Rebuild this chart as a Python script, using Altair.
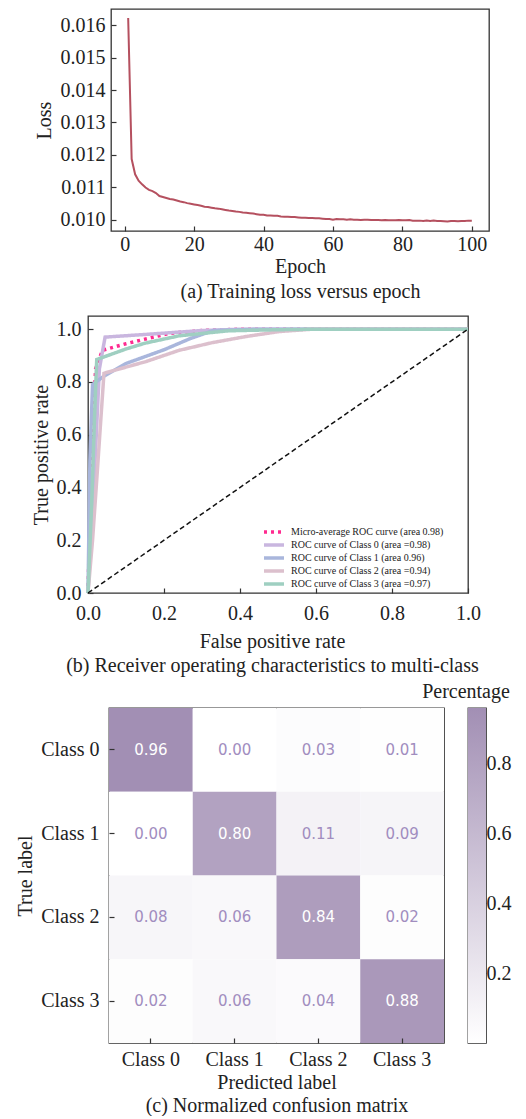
import altair as alt
import pandas as pd

SERIF = "Liberation Serif"

# ---------------- (a) training loss ----------------
epochs = list(range(1, 101))
loss = [
    0.01622, 0.01187, 0.01140, 0.01120, 0.01109, 0.01099, 0.01092, 0.01088, 0.01082, 0.01073,
    0.01070, 0.01067, 0.01064, 0.01062, 0.01059, 0.01056, 0.01054, 0.01051, 0.01049, 0.01047,
    0.01045, 0.01043, 0.01040, 0.01039, 0.01037, 0.01035, 0.01034, 0.01032, 0.01030, 0.01028,
    0.01027, 0.01025, 0.01024, 0.01022, 0.01021, 0.01020, 0.01019, 0.01017, 0.01015, 0.01015,
    0.01013, 0.01013, 0.01012, 0.01012, 0.01010, 0.01009, 0.01009, 0.01008, 0.01008, 0.01007,
    0.01006, 0.01006, 0.01005, 0.01005, 0.01004, 0.01004, 0.01003, 0.01002, 0.01002, 0.01000,
    0.01002, 0.01001, 0.01001, 0.01000, 0.01001, 0.01000, 0.01000, 0.00999, 0.01000, 0.01000,
    0.00999, 0.00999, 0.00999, 0.00998, 0.00999, 0.00998, 0.00998, 0.00998, 0.00999, 0.00998,
    0.00998, 0.00999, 0.00997, 0.00997, 0.00997, 0.00996, 0.00997, 0.00996, 0.00997, 0.00996,
    0.00996, 0.00995, 0.00994, 0.00996, 0.00996, 0.00995, 0.00996, 0.00996, 0.00997, 0.00997,
]
loss_x_ticks = [0, 20, 40, 60, 80, 100]
loss_y_ticks = [0.010, 0.011, 0.012, 0.013, 0.014, 0.015, 0.016]

# ---------------- (b) ROC ----------------
roc_series = [
    "Micro-average ROC curve (area 0.98)",
    "ROC curve of Class 0 (area =0.98)",
    "ROC curve of Class 1 (area 0.96)",
    "ROC curve of Class 2 (area =0.94)",
    "ROC curve of Class 3 (area =0.97)",
]
roc_colors = ["#ff2a90", "#c9b6df", "#a9b6dc", "#dcc0cd", "#9fcfc1"]
roc_dashes = [[3, 4], [1, 0], [1, 0], [1, 0], [1, 0]]

micro_fpr = [0.0, 0.008, 0.02, 0.038, 0.10, 0.213, 0.30, 0.40, 1.0]
micro_tpr = [0.0, 0.45, 0.85, 0.92, 0.945, 0.984, 0.995, 1.0, 1.0]
c0_fpr = [0.0, 0.012, 0.03, 0.045, 0.15, 0.30, 0.40, 1.0]
c0_tpr = [0.0, 0.30, 0.85, 0.97, 0.98, 0.995, 1.0, 1.0]
c1_fpr = [0.0, 0.005, 0.012, 0.04, 0.10, 0.20, 0.27, 0.33, 0.45, 1.0]
c1_tpr = [0.0, 0.50, 0.79, 0.82, 0.87, 0.922, 0.965, 0.995, 1.0, 1.0]
c2_fpr = [0.0, 0.012, 0.024, 0.042, 0.152, 0.24, 0.327, 0.415, 0.503, 0.59, 1.0]
c2_tpr = [0.0, 0.20, 0.45, 0.833, 0.877, 0.92, 0.949, 0.972, 0.991, 1.0, 1.0]
c3_fpr = [0.0, 0.010, 0.018, 0.023, 0.10, 0.15, 0.24, 0.37, 0.50, 0.60, 1.0]
c3_tpr = [0.0, 0.35, 0.70, 0.885, 0.925, 0.947, 0.975, 0.994, 0.998, 1.0, 1.0]
diag_fpr = [0.0, 1.0]
diag_tpr = [0.0, 1.0]
roc_ticks = [0.0, 0.2, 0.4, 0.6, 0.8, 1.0]

# ---------------- (c) confusion matrix ----------------
classes = ["Class 0", "Class 1", "Class 2", "Class 3"]
cm_row0 = [0.96, 0.00, 0.03, 0.01]
cm_row1 = [0.00, 0.80, 0.11, 0.09]
cm_row2 = [0.08, 0.06, 0.84, 0.02]
cm_row3 = [0.02, 0.06, 0.04, 0.88]
colorbar_ticks = [0.2, 0.4, 0.6, 0.8]
cm_max = 0.96
cm_low = "#ffffff"
cm_high = "#a28fb4"

# ---------------- helpers ----------------
def ax(**kw):
    base = dict(
        offset=-5, tickSize=5, domain=False, tickColor="#333333", tickWidth=1.2,
        labelFont=SERIF, labelFontSize=20, labelColor="#222222",
        titleFont=SERIF, titleFontSize=20, titleFontWeight="normal", titleColor="#222222",
        labelFlush=False, labelOverlap=False, grid=False,
    )
    base.update(kw)
    return alt.Axis(**base)


def spacer(w):
    return alt.Chart(pd.DataFrame({"s": [0]})).mark_point(opacity=0).encode(
        x=alt.X("s:Q", axis=None), y=alt.Y("s:Q", axis=None)
    ).properties(width=w, height=10, view=alt.ViewBackground(strokeOpacity=0))


# ---------------- panel (a) ----------------
loss_df = pd.DataFrame({"epoch": epochs, "loss": loss})
top = alt.Chart(loss_df).mark_line(color="#b5505f", strokeWidth=2).encode(
    x=alt.X("epoch:Q", scale=alt.Scale(domain=[-3.95, 104.95], nice=False, zero=False),
            axis=ax(values=loss_x_ticks, format="d", labelPadding=3,
                    title=["Epoch", "(a) Training loss versus epoch"],
                    titleLineHeight=25, titlePadding=2)),
    y=alt.Y("loss:Q", scale=alt.Scale(domain=[0.00965, 0.0165], nice=False, zero=False),
            axis=ax(values=loss_y_ticks, format=".3f", labelPadding=6, title="Loss", titlePadding=6)),
).properties(width=378, height=222)

# ---------------- panel (b) ----------------
rows = []
for name, fx, fy in zip(roc_series, [micro_fpr, c0_fpr, c1_fpr, c2_fpr, c3_fpr],
                        [micro_tpr, c0_tpr, c1_tpr, c2_tpr, c3_tpr]):
    for i, (a, b) in enumerate(zip(fx, fy)):
        rows.append({"fpr": a, "tpr": b, "series": name, "idx": i})
roc_df = pd.DataFrame(rows)
diag_df = pd.DataFrame({"fpr": diag_fpr, "tpr": diag_tpr})

xroc = alt.X("fpr:Q", scale=alt.Scale(domain=[0, 1], nice=False, zero=False),
             axis=ax(values=roc_ticks, format=".1f", labelPadding=10,
                     title=["False positive rate", "(b) Receiver operating characteristics to multi-class"],
                     titleLineHeight=24, titlePadding=8, titleX=184))
yroc = alt.Y("tpr:Q", scale=alt.Scale(domain=[0, 1.05], nice=False, zero=False),
             axis=ax(values=roc_ticks, format=".1f", labelPadding=7, title="True positive rate", titlePadding=5))

leg = alt.Legend(orient="none", legendX=180, legendY=210, padding=0, symbolType="M-2.5,0H2.5", symbolSize=64,
                 symbolStrokeWidth=3.5, labelFont=SERIF, labelFontSize=10, labelColor="#222222",
                 rowPadding=-2, labelOffset=11, labelLimit=400)
cscale = alt.Scale(domain=roc_series, range=roc_colors)
dscale = alt.Scale(domain=roc_series, range=roc_dashes)

curves = alt.Chart(roc_df).mark_line(strokeWidth=3.5).encode(
    x=xroc, y=yroc, order="idx:Q",
    color=alt.Color("series:N", scale=cscale, legend=leg, title=None),
    strokeDash=alt.StrokeDash("series:N", scale=dscale, legend=leg, title=None),
)
diag = alt.Chart(diag_df).mark_line(color="#111111", strokeDash=[5, 3], strokeWidth=1.5).encode(x=xroc, y=yroc)
roc = alt.layer(curves, diag).properties(width=380, height=277)

# ---------------- panel (c) ----------------
cm_rows = []
for t, vals in zip(classes, [cm_row0, cm_row1, cm_row2, cm_row3]):
    for p, v in zip(classes, vals):
        cm_rows.append({"true": t, "pred": p, "value": v})
cm_df = pd.DataFrame(cm_rows)

xcm = alt.X("pred:N", sort=classes, scale=alt.Scale(paddingInner=0, paddingOuter=0),
            axis=ax(labelAngle=0, labelPadding=6, title=["Predicted label", "(c) Normalized confusion matrix"],
                    titleLineHeight=23, titlePadding=3))
ycm = alt.Y("true:N", sort=classes, scale=alt.Scale(paddingInner=0, paddingOuter=0),
            axis=ax(labelPadding=10, title="True label", titlePadding=5))

rect = alt.Chart(cm_df).mark_rect().encode(
    x=xcm, y=ycm,
    color=alt.Color("value:Q", scale=alt.Scale(domain=[0, cm_max], range=[cm_low, cm_high], interpolate="rgb"),
                    legend=None),
)
txt = alt.Chart(cm_df).mark_text(font="DejaVu Sans", fontSize=15).encode(
    x=xcm, y=ycm,
    text=alt.Text("value:Q", format=".2f"),
    color=alt.condition(alt.datum.value > 0.5, alt.value("#ffffff"), alt.value("#a18dbf")),
)
cm = alt.layer(rect, txt).properties(width=335, height=335)

grad = alt.LinearGradient(gradient="linear",
                          stops=[alt.GradientStop(color=cm_low, offset=0), alt.GradientStop(color=cm_high, offset=1)],
                          x1=0, x2=0, y1=1, y2=0)
cb_df = pd.DataFrame({"lo": [0.0], "hi": [cm_max]})
colorbar = alt.Chart(cb_df).mark_rect(fill=grad).encode(
    y=alt.Y("lo:Q", scale=alt.Scale(domain=[0, cm_max], nice=False, zero=False),
            axis=ax(orient="right", values=colorbar_ticks, format=".1f", labelPadding=0, title=None)),
    y2="hi:Q",
).properties(width=18, height=335,
             title=alt.TitleParams("Percentage", font=SERIF, fontSize=20, fontWeight="normal",
                                   color="#222222", dx=-11, offset=6))

row1 = alt.hconcat(spacer(22), top, spacing=0)
row2 = alt.hconcat(spacer(19), roc, spacing=0).resolve_legend(color="independent", strokeDash="independent")
row3 = alt.hconcat(spacer(1), alt.hconcat(cm, colorbar, spacing=24, bounds="flush"), spacing=0)

upper = alt.vconcat(row1, row2, spacing=13).resolve_legend(color="independent", strokeDash="independent")
chart = alt.vconcat(upper, row3, spacing=5).resolve_legend(
    color="independent", strokeDash="independent"
).properties(
    padding={"left": 0, "top": 0, "right": 0, "bottom": 0}
).configure_view(stroke="#333333", strokeWidth=1.3)

chart.save("out.html", embed_options={"renderer": "svg", "actions": False})
